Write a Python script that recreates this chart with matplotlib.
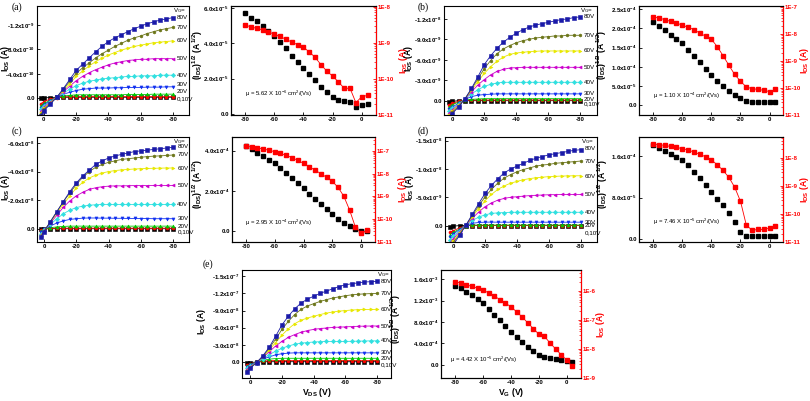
import numpy as np
import matplotlib.pyplot as plt

plt.rcParams['font.family'] = ['Liberation Sans', 'DejaVu Sans']
plt.rcParams['mathtext.default'] = 'regular'
plt.rcParams['axes.unicode_minus'] = False

# ---- output curves: |I_DS|, for V_G = 0,10,...,80 V ----
vds = [2, 0, -4, -8, -12, -16, -20, -24, -28, -32, -36, -40, -44, -48, -52, -56, -60, -64, -68, -72, -76, -80]
vg_names = ["0,10V", "20V", "30V", "40V", "50V", "60V", "70V", "80V"]

# (a) units 1e-10 A
a_out = [
    [0.05, 0.1, 0.15, 0.2, 0.2, 0.2, 0.2, 0.2, 0.2, 0.2, 0.2, 0.2, 0.2, 0.2, 0.2, 0.2, 0.2, 0.2, 0.2, 0.2, 0.2, 0.2],
    [-0.9, -0.5, -0.1, 0.15, 0.25, 0.3, 0.3, 0.3, 0.3, 0.3, 0.3, 0.3, 0.3, 0.3, 0.3, 0.3, 0.3, 0.3, 0.3, 0.3, 0.3, 0.3],
    [-1.2, -0.8, -0.3, 0.2, 0.4, 0.5, 0.6, 0.6, 0.6, 0.6, 0.6, 0.6, 0.6, 0.6, 0.65, 0.65, 0.65, 0.65, 0.7, 0.7, 0.7, 0.7],
    [-1.5, -1.0, -0.4, 0.2, 0.7, 1.0, 1.3, 1.5, 1.6, 1.7, 1.7, 1.7, 1.75, 1.75, 1.8, 1.8, 1.8, 1.85, 1.85, 1.85, 1.9, 1.9],
    [-1.8, -1.2, -0.5, 0.2, 0.9, 1.5, 2.1, 2.5, 2.8, 3.0, 3.2, 3.3, 3.4, 3.5, 3.6, 3.6, 3.7, 3.7, 3.7, 3.8, 3.8, 3.8],
    [-2.1, -1.4, -0.6, 0.2, 1.1, 2.0, 2.9, 3.6, 4.2, 4.7, 5.1, 5.5, 5.8, 6.0, 6.2, 6.3, 6.4, 6.4, 6.5, 6.5, 6.5, 6.5],
    [-2.4, -1.6, -0.7, 0.2, 1.3, 2.4, 3.6, 4.5, 5.3, 6.0, 6.6, 7.1, 7.5, 7.9, 8.2, 8.5, 8.7, 8.9, 9.1, 9.2, 9.3, 9.4],
    [-2.6, -1.8, -0.8, 0.2, 1.5, 2.8, 4.1, 5.0, 5.8, 6.6, 7.3, 7.9, 8.5, 9.0, 9.5, 9.9, 10.2, 10.6, 10.9, 11.2, 11.4, 11.6],
    [-2.8, -2.0, -0.9, 0.2, 1.6, 3.1, 4.6, 5.6, 6.6, 7.6, 8.5, 9.3, 9.9, 10.4, 10.9, 11.4, 11.8, 12.2, 12.5, 12.8, 13.0, 13.2],
]
# (b) units 1e-9 A
b_out = [
    [-0.2, -0.1, 0, 0, 0, 0, 0, 0, 0, 0, 0, 0, 0, 0, 0, 0, 0, 0, 0, 0, 0, 0],
    [-0.6, -0.4, -0.1, 0.05, 0.1, 0.1, 0.1, 0.1, 0.1, 0.1, 0.1, 0.1, 0.1, 0.1, 0.1, 0.1, 0.1, 0.1, 0.1, 0.1, 0.1, 0.1],
    [-0.9, -0.6, -0.2, 0.1, 0.2, 0.25, 0.3, 0.3, 0.3, 0.3, 0.3, 0.3, 0.3, 0.3, 0.3, 0.3, 0.3, 0.3, 0.3, 0.3, 0.3, 0.3],
    [-1.2, -0.9, -0.4, 0.2, 0.6, 0.8, 0.9, 0.95, 1.0, 1.0, 1.0, 1.0, 1.0, 1.0, 1.0, 1.0, 1.0, 1.0, 1.0, 1.0, 1.0, 1.0],
    [-1.5, -1.1, -0.5, 0.3, 1.0, 1.6, 2.1, 2.4, 2.6, 2.7, 2.7, 2.7, 2.7, 2.7, 2.7, 2.7, 2.7, 2.7, 2.7, 2.7, 2.7, 2.7],
    [-1.8, -1.3, -0.6, 0.3, 1.3, 2.3, 3.1, 3.8, 4.3, 4.6, 4.8, 4.85, 4.9, 4.9, 4.9, 4.9, 4.9, 4.9, 4.9, 4.9, 4.9, 4.9],
    [-2.1, -1.5, -0.7, 0.3, 1.5, 2.8, 4.0, 5.0, 5.8, 6.4, 6.8, 7.0, 7.1, 7.2, 7.25, 7.3, 7.3, 7.3, 7.3, 7.3, 7.3, 7.3],
    [-2.3, -1.7, -0.8, 0.3, 1.7, 3.2, 4.7, 5.9, 6.9, 7.6, 8.1, 8.5, 8.8, 9.0, 9.2, 9.3, 9.4, 9.5, 9.5, 9.6, 9.6, 9.6],
    [-2.6, -1.9, -0.9, 0.3, 1.8, 3.5, 5.3, 6.6, 7.7, 8.6, 9.3, 9.9, 10.4, 10.8, 11.1, 11.3, 11.5, 11.7, 11.9, 12.0, 12.2, 12.3],
]
# (c) units 1e-8 A
c_out = [
    [-0.03, 0, 0, 0, 0, 0, 0, 0, 0, 0, 0, 0, 0, 0, 0, 0, 0, 0, 0, 0, 0, 0],
    [-0.08, -0.02, 0.02, 0.04, 0.04, 0.04, 0.04, 0.04, 0.04, 0.04, 0.04, 0.04, 0.04, 0.04, 0.04, 0.04, 0.04, 0.04, 0.04, 0.04, 0.04, 0.04],
    [-0.15, -0.03, 0.07, 0.13, 0.16, 0.18, 0.18, 0.18, 0.18, 0.18, 0.18, 0.18, 0.18, 0.18, 0.18, 0.18, 0.18, 0.18, 0.18, 0.18, 0.18, 0.18],
    [-0.25, -0.05, 0.2, 0.4, 0.55, 0.65, 0.7, 0.74, 0.75, 0.75, 0.74, 0.74, 0.73, 0.73, 0.72, 0.72, 0.71, 0.71, 0.7, 0.7, 0.7, 0.7],
    [-0.35, -0.1, 0.3, 0.7, 1.05, 1.3, 1.48, 1.58, 1.64, 1.68, 1.7, 1.7, 1.7, 1.7, 1.7, 1.7, 1.7, 1.7, 1.7, 1.7, 1.7, 1.7],
    [-0.45, -0.15, 0.4, 0.95, 1.5, 1.95, 2.3, 2.55, 2.75, 2.87, 2.94, 2.98, 3.0, 3.0, 3.01, 3.02, 3.02, 3.02, 3.03, 3.03, 3.03, 3.03],
    [-0.5, -0.15, 0.45, 1.1, 1.7, 2.3, 2.85, 3.25, 3.55, 3.75, 3.9, 4.0, 4.07, 4.12, 4.15, 4.18, 4.2, 4.22, 4.23, 4.24, 4.25, 4.25],
    [-0.55, -0.2, 0.5, 1.2, 1.9, 2.5, 3.1, 3.6, 4.0, 4.3, 4.5, 4.65, 4.75, 4.85, 4.9, 4.95, 5.0, 5.05, 5.08, 5.1, 5.13, 5.16],
    [-0.6, -0.2, 0.5, 1.2, 1.9, 2.6, 3.2, 3.7, 4.1, 4.5, 4.75, 4.95, 5.1, 5.2, 5.3, 5.4, 5.45, 5.5, 5.55, 5.6, 5.65, 5.7],
]
# (d) units 1e-9 A
d_out = [
    [-0.3, -0.1, 0, 0, 0, 0, 0, 0, 0, 0, 0, 0, 0, 0, 0, 0, 0, 0, 0, 0, 0, 0],
    [-1.2, -0.9, -0.4, 0, 0, 0, 0, 0, 0, 0, 0, 0, 0, 0, 0, 0, 0, 0, 0, 0, 0, 0],
    [-1.6, -1.2, -0.6, 0, 0.1, 0.1, 0.1, 0.1, 0.1, 0.1, 0.1, 0.1, 0.1, 0.1, 0.1, 0.1, 0.1, 0.1, 0.1, 0.1, 0.1, 0.1],
    [-2.0, -1.5, -0.7, 0.1, 0.4, 0.55, 0.6, 0.62, 0.6, 0.6, 0.6, 0.6, 0.6, 0.6, 0.6, 0.6, 0.6, 0.6, 0.6, 0.6, 0.6, 0.6],
    [-2.5, -1.9, -0.9, 0.1, 0.9, 1.5, 1.9, 2.15, 2.25, 2.3, 2.35, 2.35, 2.35, 2.35, 2.35, 2.35, 2.35, 2.35, 2.35, 2.35, 2.35, 2.35],
    [-3.0, -2.3, -1.1, 0.1, 1.3, 2.4, 3.35, 4.0, 4.5, 4.8, 5.0, 5.1, 5.2, 5.3, 5.35, 5.4, 5.45, 5.47, 5.5, 5.5, 5.5, 5.5],
    [-3.5, -2.7, -1.3, 0.1, 1.6, 3.0, 4.4, 5.5, 6.4, 7.0, 7.5, 7.8, 8.1, 8.3, 8.45, 8.55, 8.65, 8.7, 8.75, 8.78, 8.8, 8.8],
    [-4.0, -3.0, -1.5, 0.1, 1.8, 3.5, 5.1, 6.4, 7.5, 8.4, 9.0, 9.5, 9.9, 10.2, 10.5, 10.7, 10.8, 11.0, 11.1, 11.2, 11.3, 11.4],
    [-4.5, -3.4, -1.7, 0.1, 2.0, 3.9, 5.7, 7.1, 8.3, 9.3, 10.0, 10.5, 11.0, 11.5, 11.9, 12.2, 12.5, 12.7, 12.9, 13.1, 13.3, 13.4],
]
# (e) units 1e-8 A
e_out = [
    [-0.2, -0.1, 0, 0.05, 0.05, 0.05, 0.05, 0.05, 0.05, 0.05, 0.05, 0.05, 0.05, 0.05, 0.05, 0.05, 0.05, 0.05, 0.05, 0.05, 0.05, 0.05],
    [-0.5, -0.3, 0, 0.15, 0.22, 0.25, 0.25, 0.25, 0.25, 0.25, 0.25, 0.25, 0.25, 0.25, 0.25, 0.25, 0.25, 0.25, 0.25, 0.25, 0.25, 0.25],
    [-0.7, -0.4, 0, 0.3, 0.5, 0.6, 0.65, 0.65, 0.65, 0.65, 0.65, 0.65, 0.65, 0.65, 0.65, 0.65, 0.65, 0.65, 0.65, 0.65, 0.65, 0.65],
    [-0.9, -0.5, 0, 0.5, 0.9, 1.25, 1.45, 1.55, 1.6, 1.6, 1.6, 1.6, 1.6, 1.6, 1.6, 1.6, 1.6, 1.6, 1.6, 1.6, 1.6, 1.6],
    [-1.1, -0.7, -0.1, 0.6, 1.3, 1.9, 2.4, 2.8, 3.1, 3.3, 3.4, 3.5, 3.55, 3.6, 3.6, 3.6, 3.6, 3.62, 3.65, 3.67, 3.7, 3.7],
    [-1.3, -0.8, -0.1, 0.8, 1.8, 2.8, 3.6, 4.3, 4.8, 5.2, 5.5, 5.7, 5.85, 5.95, 6.05, 6.1, 6.15, 6.2, 6.25, 6.28, 6.3, 6.3],
    [-1.5, -0.9, -0.1, 0.9, 2.1, 3.4, 4.7, 5.8, 6.7, 7.3, 7.7, 8.0, 8.3, 8.55, 8.75, 8.9, 9.0, 9.1, 9.15, 9.2, 9.2, 9.2],
    [-1.6, -1.0, -0.1, 1.0, 2.4, 4.0, 5.7, 7.1, 8.3, 9.2, 9.8, 10.2, 10.6, 10.9, 11.2, 11.4, 11.6, 11.75, 11.85, 11.92, 11.97, 12.0],
    [-1.7, -1.1, -0.1, 1.1, 2.6, 4.5, 6.5, 8.0, 9.3, 10.3, 11.0, 11.5, 12.0, 12.4, 12.8, 13.2, 13.5, 13.7, 13.85, 14.0, 14.05, 14.1],
]

# ---- transfer curves ----
vgs = [-80, -76, -72, -68, -64, -60, -56, -52, -48, -44, -40, -36, -32, -28, -24, -20, -16, -12, -8, -4, 0, 4]

a_sqrt = [5.69, 5.45, 5.25, 4.98, 4.7, 4.41, 4.05, 3.7, 3.3, 2.95, 2.58, 2.25, 1.9, 1.55, 1.25, 0.98, 0.8, 0.72, 0.7, 0.42, 0.52, 0.55]  # 1e-5
a_ids = [3.1e-9, 2.8e-9, 2.5e-9, 2.3e-9, 2.0e-9, 1.74e-9, 1.5e-9, 1.26e-9, 1.05e-9, 8.9e-10, 7.6e-10, 5.6e-10,
         4.0e-10, 2.5e-10, 1.66e-10, 1.2e-10, 8.3e-11, 5.5e-11, 5.5e-11, 2.2e-11, 3.2e-11, 3.5e-11]
b_sqrt = [2.17, 2.06, 1.95, 1.84, 1.73, 1.61, 1.45, 1.28, 1.12, 0.95, 0.78, 0.63, 0.5, 0.38, 0.27, 0.18, 0.12, 0.1, 0.095, 0.09, 0.09, 0.09]  # 1e-4
b_ids = [4.5e-8, 4.0e-8, 3.5e-8, 3.0e-8, 2.6e-8, 2.2e-8, 1.8e-8, 1.5e-8, 1.1e-8, 8.5e-9, 6.5e-9, 3.5e-9,
         1.6e-9, 7.1e-10, 3.2e-10, 1.8e-10, 1.1e-10, 9.5e-11, 8.9e-11, 8.3e-11, 7.4e-11, 8.9e-11]
c_sqrt = [4.23, 4.08, 3.9, 3.72, 3.55, 3.38, 3.14, 2.9, 2.65, 2.39, 2.13, 1.87, 1.61, 1.35, 1.1, 0.86, 0.63, 0.43, 0.25, 0.1, 0.02, 0.02]  # 1e-4
c_ids = [1.66e-7, 1.51e-7, 1.35e-7, 1.2e-7, 1.05e-7, 9.1e-8, 7.6e-8, 6.3e-8, 5.0e-8, 3.8e-8, 2.8e-8, 2.0e-8,
         1.4e-8, 1.0e-8, 6.8e-9, 4.5e-9, 2.5e-9, 1.0e-9, 2.5e-10, 4.5e-11, 2.5e-11, 3.2e-11]
d_sqrt = [1.81, 1.76, 1.7, 1.64, 1.58, 1.52, 1.42, 1.3, 1.18, 1.05, 0.91, 0.78, 0.65, 0.5, 0.32, 0.14, 0.06, 0.05, 0.05, 0.05, 0.05, 0.05]  # 1e-4
d_ids = [3.0e-8, 2.9e-8, 2.7e-8, 2.5e-8, 2.3e-8, 2.1e-8, 1.86e-8, 1.58e-8, 1.32e-8, 1.07e-8, 8.3e-9, 5.6e-9,
         3.5e-9, 2.0e-9, 8.9e-10, 2.8e-10, 4.0e-11, 2.6e-11, 2.8e-11, 2.8e-11, 3.2e-11, 3.7e-11]
e_sqrt = [14.8, 14.3, 13.7, 13.0, 12.3, 11.5, 10.5, 9.4, 8.3, 7.2, 6.2, 5.2, 4.3, 3.4, 2.6, 1.9, 1.5, 1.25, 1.05, 0.85, 0.68, 0.5]  # 1e-4
e_ids = [2.04e-6, 1.86e-6, 1.62e-6, 1.41e-6, 1.23e-6, 1.05e-6, 8.5e-7, 6.6e-7, 5.0e-7, 3.8e-7, 2.8e-7, 1.9e-7,
         1.26e-7, 7.9e-8, 5.0e-8, 3.2e-8, 2.7e-8, 1.6e-8, 1.0e-8, 6.3e-9, 4.1e-9, 2.5e-9]

mobility = {
    "a": "μ = 5.62 X 10$^{-6}$ cm$^2$/(Vs)",
    "b": "μ = 1.10 X 10$^{-4}$ cm$^2$/(Vs)",
    "c": "μ = 2.95 X 10$^{-4}$ cm$^2$/(Vs)",
    "d": "μ = 7.46 X 10$^{-5}$ cm$^2$/(Vs)",
    "e": "μ = 4.42 X 10$^{-5}$ cm$^2$/(Vs)",
}

# tick labels
a_out_ticks = [0, -4e-10, -8e-10, -1.2e-9]
a_out_labels = ["0.0", "-4.0x10$^{-10}$", "-8.0x10$^{-10}$", "-1.2x10$^{-9}$"]
b_out_ticks = [0, -3e-9, -6e-9, -9e-9, -1.2e-8]
b_out_labels = ["0.0", "-3.0x10$^{-9}$", "-6.0x10$^{-9}$", "-9.0x10$^{-9}$", "-1.2x10$^{-8}$"]
c_out_ticks = [0, -2e-8, -4e-8, -6e-8]
c_out_labels = ["0.0", "-2.0x10$^{-8}$", "-4.0x10$^{-8}$", "-6.0x10$^{-8}$"]
d_out_ticks = [0, -5e-9, -1e-8, -1.5e-8]
d_out_labels = ["0.0", "-5.0x10$^{-9}$", "-1.0x10$^{-8}$", "-1.5x10$^{-8}$"]
e_out_ticks = [0, -3e-8, -6e-8, -9e-8, -1.2e-7, -1.5e-7]
e_out_labels = ["0.0", "-3.0x10$^{-8}$", "-6.0x10$^{-8}$", "-9.0x10$^{-8}$", "-1.2x10$^{-7}$", "-1.5x10$^{-7}$"]

a_tr_ticks = [0, 2e-5, 4e-5, 6e-5]
a_tr_labels = ["0.0", "2.0x10$^{-5}$", "4.0x10$^{-5}$", "6.0x10$^{-5}$"]
b_tr_ticks = [0, 5e-5, 1e-4, 1.5e-4, 2e-4, 2.5e-4]
b_tr_labels = ["0.0", "5.0x10$^{-5}$", "1.0x10$^{-4}$", "1.5x10$^{-4}$", "2.0x10$^{-4}$", "2.5x10$^{-4}$"]
c_tr_ticks = [0, 2e-4, 4e-4]
c_tr_labels = ["0.0", "2.0x10$^{-4}$", "4.0x10$^{-4}$"]
d_tr_ticks = [0, 8e-5, 1.6e-4]
d_tr_labels = ["0.0", "8.0x10$^{-5}$", "1.6x10$^{-4}$"]
e_tr_ticks = [0, 4e-4, 8e-4, 1.2e-3, 1.6e-3]
e_tr_labels = ["0.0", "4.0x10$^{-4}$", "8.0x10$^{-4}$", "1.2x10$^{-3}$", "1.6x10$^{-3}$"]

colors = ["#000000", "#ff0000", "#00c800", "#1030f0", "#30e0e0", "#cc00cc", "#e8e800", "#6b7518", "#1a1aa8"]
markers = ["s", "o", "^", "v", "D", "<", ">", "h", "s"]

fig = plt.figure(figsize=(8.1, 4.01), dpi=100)


def box(l, t, r, b):
    return fig.add_axes([l / 810, 1 - b / 401, (r - l) / 810, (b - t) / 401])


def style(ax, color="black"):
    ax.tick_params(direction="in", length=2.5, width=0.6, labelsize=4.4, pad=1.5, colors=color)
    for s in ax.spines.values():
        s.set_linewidth(0.8)
    for lbl in ax.get_xticklabels() + ax.get_yticklabels():
        lbl.set_fontweight("bold")


def draw_output(ax, curves, scale, xlim, ylim, yt, ytl, dy, lab_x, xlabel=False):
    for i, vals in enumerate(curves):
        y = -np.array(vals) * scale
        ax.plot(vds, y, marker=markers[i], color=colors[i], ms=2.2, lw=0.6, mew=0.4)
    for k, name in enumerate(vg_names):
        ax.annotate(name, (vds[-1], -curves[k + 1][-1] * scale), xytext=(4, dy[k]),
                    textcoords="offset pixels", fontsize=4.5, va="center", ha="left")
    ax.text(vds[-1], 1.0, "V$_G$=", transform=ax.get_xaxis_transform(), fontsize=4.5,
            va="top", ha="left")
    ax.set_xlim(xlim)
    ax.set_ylim(ylim)
    ax.set_xticks([0, -20, -40, -60, -80])
    ax.set_yticks(yt)
    ax.set_yticklabels(ytl)
    style(ax)
    ax.set_ylabel("I$_{DS}$ (A)", fontsize=6.2, fontweight="bold")
    ax.yaxis.set_label_coords(lab_x, 0.52)
    if xlabel:
        ax.set_xlabel("V$_{DS}$ (V)", fontsize=6.2, fontweight="bold", labelpad=1)


def draw_transfer(ax, sq, scale, ids, xlim, ylim, yt, ytl, ylim2, yt2, mu, mu_pos, lab_x, xlabel=False):
    ax.plot(vgs, np.array(sq) * scale, "s", color="black", ms=2.2)
    ax.set_xlim(xlim)
    ax.set_ylim(ylim)
    ax.set_xticks([-80, -60, -40, -20, 0])
    ax.set_yticks(yt)
    ax.set_yticklabels(ytl)
    style(ax)
    ax.set_ylabel("(I$_{DS}$)$^{1/2}$ (A$^{1/2}$)", fontsize=6.2, fontweight="bold")
    ax.yaxis.set_label_coords(lab_x[0], 0.55)
    ax.text(mu_pos[0], mu_pos[1], mu, transform=ax.transAxes, fontsize=4.3, va="center", ha="left")
    if xlabel:
        ax.set_xlabel("V$_G$ (V)", fontsize=6.2, fontweight="bold", labelpad=1)
    ax2 = ax.twinx()
    ax2.semilogy(vgs, ids, "s-", color="red", ms=2.2, lw=0.6)
    ax2.set_ylim(ylim2)
    ax2.set_yticks(yt2)
    ax2.set_yticklabels(["1E%d" % int(round(np.log10(v))) for v in yt2])
    style(ax2, "red")
    ax2.tick_params(which="minor", direction="in", length=1.5, width=0.5, colors="red")
    ax2.spines["right"].set_color("red")
    ax2.set_ylabel("I$_{DS}$ (A)", fontsize=6.2, fontweight="bold", color="red")
    ax2.yaxis.set_label_coords(lab_x[1], 0.5)


draw_output(box(37, 6, 189, 115), a_out, 1e-10, (4.3, -90), (2.7e-10, -1.51e-9),
            a_out_ticks, a_out_labels, [-2, 2.5, 2, 0, 0, 0, 0, 0], -0.165)
draw_transfer(box(231, 6, 376, 115), a_sqrt, 1e-5, a_ids, (-89.6, 9.8), (-5.6e-7, 6.1e-5),
              a_tr_ticks, a_tr_labels, (1e-11, 1.05e-8), [1e-11, 1e-10, 1e-9, 1e-8], mobility["a"], (0.097, 0.19),
              (-0.18, 1.145))
draw_output(box(444, 6, 597, 115), b_out, 1e-9, (5.2, -90.6), (2.1e-9, -1.39e-8),
            b_out_ticks, b_out_labels, [-4, -0.6, 0, 0, 0, 0, 0, 0], -0.19)
draw_transfer(box(639, 6, 783, 115), b_sqrt, 1e-4, b_ids, (-89.7, 9.2), (-2.5e-5, 2.58e-4),
              b_tr_ticks, b_tr_labels, (1e-11, 1.12e-7), [1e-11, 1e-10, 1e-9, 1e-8, 1e-7], mobility["b"], (0.097, 0.177),
              (-0.205, 1.105))
draw_output(box(37, 137, 189, 242), c_out, 1e-8, (4.3, -89.7), (0.93e-8, -6.42e-8),
            c_out_ticks, c_out_labels, [-3.6, 0, 0, 0, 0, 0, 0, 1], -0.165)
draw_transfer(box(232, 137, 375, 242), c_sqrt, 1e-4, c_ids, (-89.6, 9.6), (-5.2e-5, 4.67e-4),
              c_tr_ticks, c_tr_labels, (1e-11, 4e-7), [1e-11, 1e-10, 1e-9, 1e-8, 1e-7], mobility["c"], (0.09, 0.18),
              (-0.19, 1.15))
draw_output(box(445, 137, 597, 242), d_out, 1e-9, (5.2, -90.3), (2.9e-9, -1.565e-8),
            d_out_ticks, d_out_labels, [-7.6, -0.6, 0, 0, 0, -1, 0, 1], -0.19)
draw_transfer(box(639, 137, 783, 242), d_sqrt, 1e-4, d_ids, (-89.7, 9.2), (-5.8e-6, 1.97e-4),
              d_tr_ticks, d_tr_labels, (1e-11, 5.4e-8), [1e-11, 1e-10, 1e-9, 1e-8], mobility["d"], (0.097, 0.19),
              (-0.20, 1.105))
draw_output(box(242, 270, 391, 378), e_out, 1e-8, (5.2, -88.8), (2.8e-8, -1.61e-7),
            e_out_ticks, e_out_labels, [-4.4, 0, 0, 0, 0, 0, 0, 0], -0.228, xlabel=True)
draw_transfer(box(441, 270, 581, 378), e_sqrt, 1e-4, e_ids, (-90.2, 10.2), (-2.5e-4, 1.775e-3),
              e_tr_ticks, e_tr_labels, (1e-9, 5.2e-6), [1e-9, 1e-8, 1e-7, 1e-6], mobility["e"], (0.064, 0.17),
              (-0.27, 1.09), xlabel=True)

for letter, x, y in [("(a)", 12, 7), ("(b)", 418, 7), ("(c)", 12, 131), ("(d)", 418, 131), ("(e)", 203, 264)]:
    fig.text(x / 810, 1 - y / 401, letter, fontsize=7, family="Liberation Serif", va="center", ha="left")

fig.savefig("out.png", dpi=100)
